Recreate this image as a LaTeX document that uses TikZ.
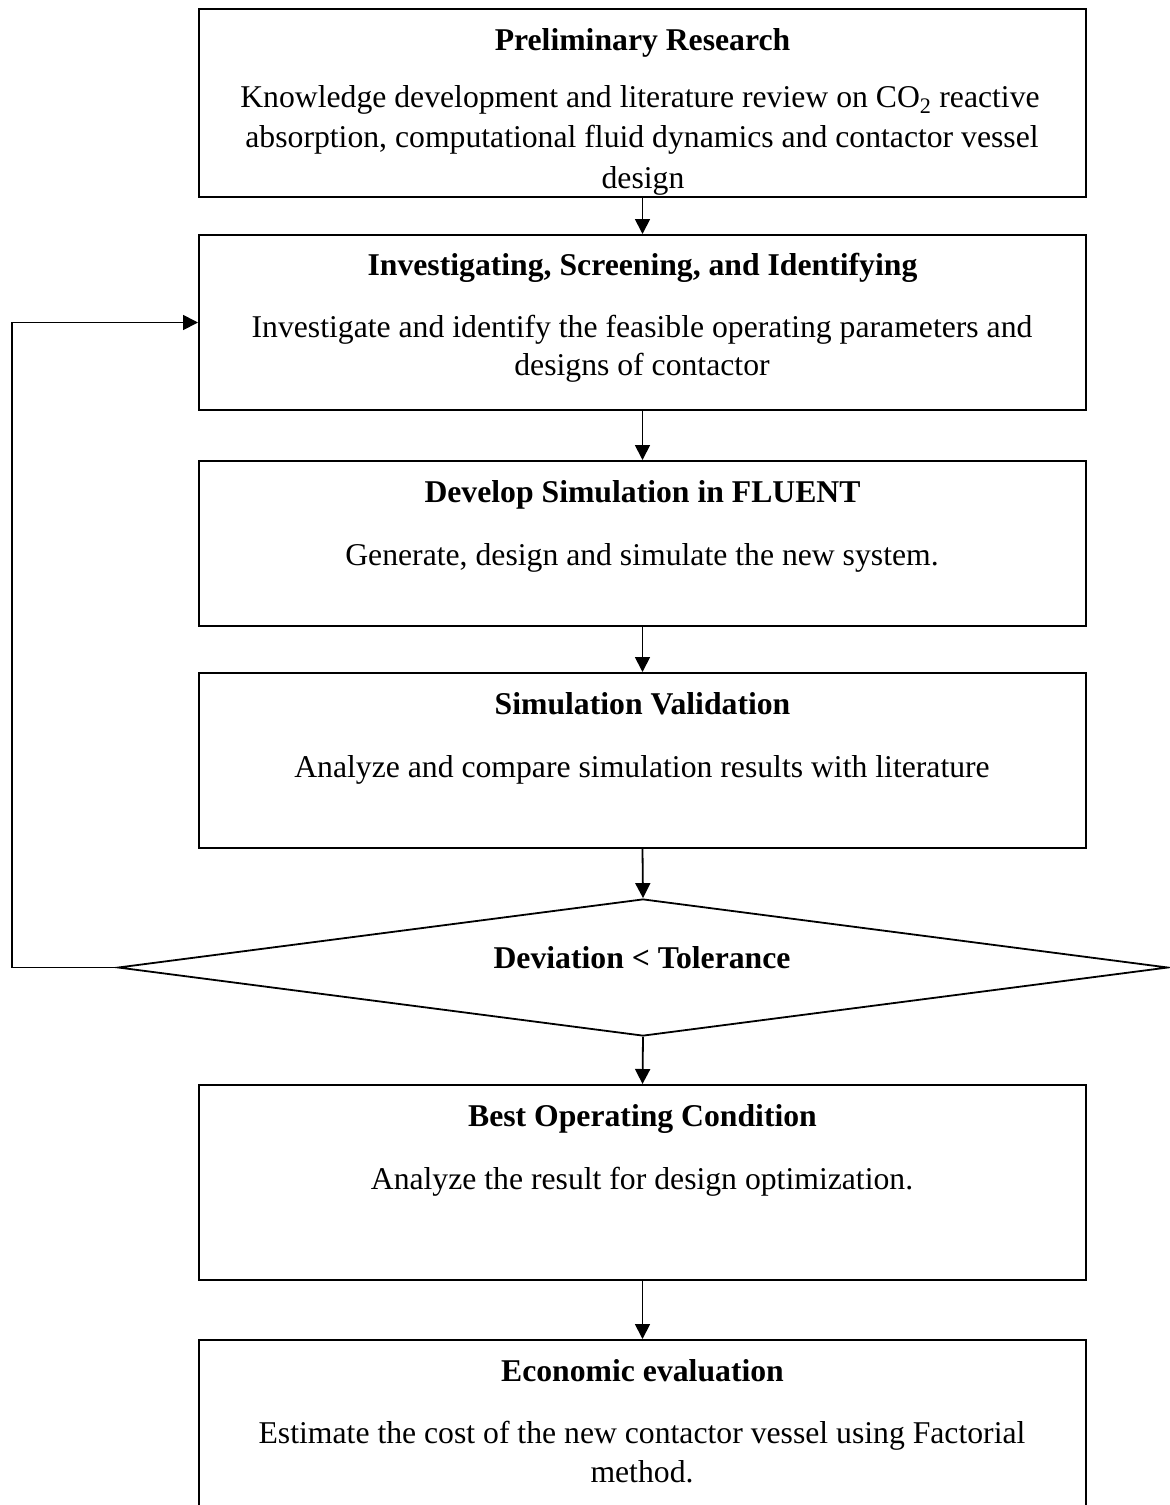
\documentclass[tikz,border=0pt]{standalone}
\usepackage{fontspec}
\setmainfont{Liberation Serif}
\usetikzlibrary{arrows.meta,shapes.geometric}
\begin{document}
\begin{tikzpicture}[x=1pt,y=1pt,
  box/.style={draw, line width=2pt, rectangle, inner sep=0pt, minimum width=887pt},
  ttl/.style={anchor=base, font=\fontsize{31.7}{38}\selectfont\bfseries, inner sep=0pt},
  txt/.style={anchor=base, font=\fontsize{31.7}{38}\selectfont, inner sep=0pt},
  arr/.style={line width=1.8pt, -{Triangle[length=15pt,width=15pt]}},
]
\useasboundingbox (0,0) rectangle (1170,-1505);

% boxes
\node[box, minimum height=188pt] (b1) at (642.5,-103) {};
\node[box, minimum height=175pt] (b2) at (642.5,-322.5) {};
\node[box, minimum height=165pt] (b3) at (642.5,-543.5) {};
\node[box, minimum height=175pt] (b4) at (642.5,-760.5) {};
\node[draw, diamond, line width=1.8pt, minimum width=1050pt, minimum height=137pt, inner sep=0pt] (d) at (643,-967.5) {};
\node[box, minimum height=195pt] (b5) at (642.5,-1182.5) {};
\node[box, minimum height=175pt] (b6) at (642.5,-1427.5) {};

% texts
\node[ttl] (t1) at (642.5,-50) {Preliminary Research};
\node[txt] (t1a) at (640,-107) {Knowledge development and literature review on CO\textsubscript{2} reactive};
\node[txt] (t1b) at (642,-147) {absorption, computational fluid dynamics and contactor vessel};
\node[txt] (t1c) at (643,-188) {design};

\node[ttl] (t2) at (642.5,-275) {Investigating, Screening, and Identifying};
\node[txt] (t2a) at (642,-337) {Investigate and identify the feasible operating parameters and};
\node[txt] (t2b) at (642,-375) {designs of contactor};

\node[ttl] (t3) at (642.5,-502) {Develop Simulation in FLUENT};
\node[txt] (t3a) at (642,-565) {Generate, design and simulate the new system.};

\node[ttl] (t4) at (642.5,-714) {Simulation Validation};
\node[txt] (t4a) at (642,-777) {Analyze and compare simulation results with literature};

\node[ttl] (td) at (642,-968) {Deviation < Tolerance};

\node[ttl] (t5) at (642.5,-1126) {Best Operating Condition};
\node[txt] (t5a) at (642,-1189) {Analyze the result for design optimization.};

\node[ttl] (t6) at (642.5,-1381) {Economic evaluation};
\node[txt] (t6a) at (642,-1443) {Estimate the cost of the new contactor vessel using Factorial};
\node[txt] (t6b) at (642,-1482) {method.};

% connectors
\draw[arr] (b1.south) -- (b2.north);
\draw[arr] (b2.south) -- (b3.north);
\draw[arr] (b3.south) -- (b4.north);
\draw[arr] (b4.south) -- (d.north);
\draw[arr] (d.south) -- (b5.north);
\draw[arr] (b5.south) -- (b6.north);
\coordinate (lp) at (12,-967.5);
\draw[arr] (d.west) -- (lp) |- (b2.west);
\end{tikzpicture}
\end{document}
